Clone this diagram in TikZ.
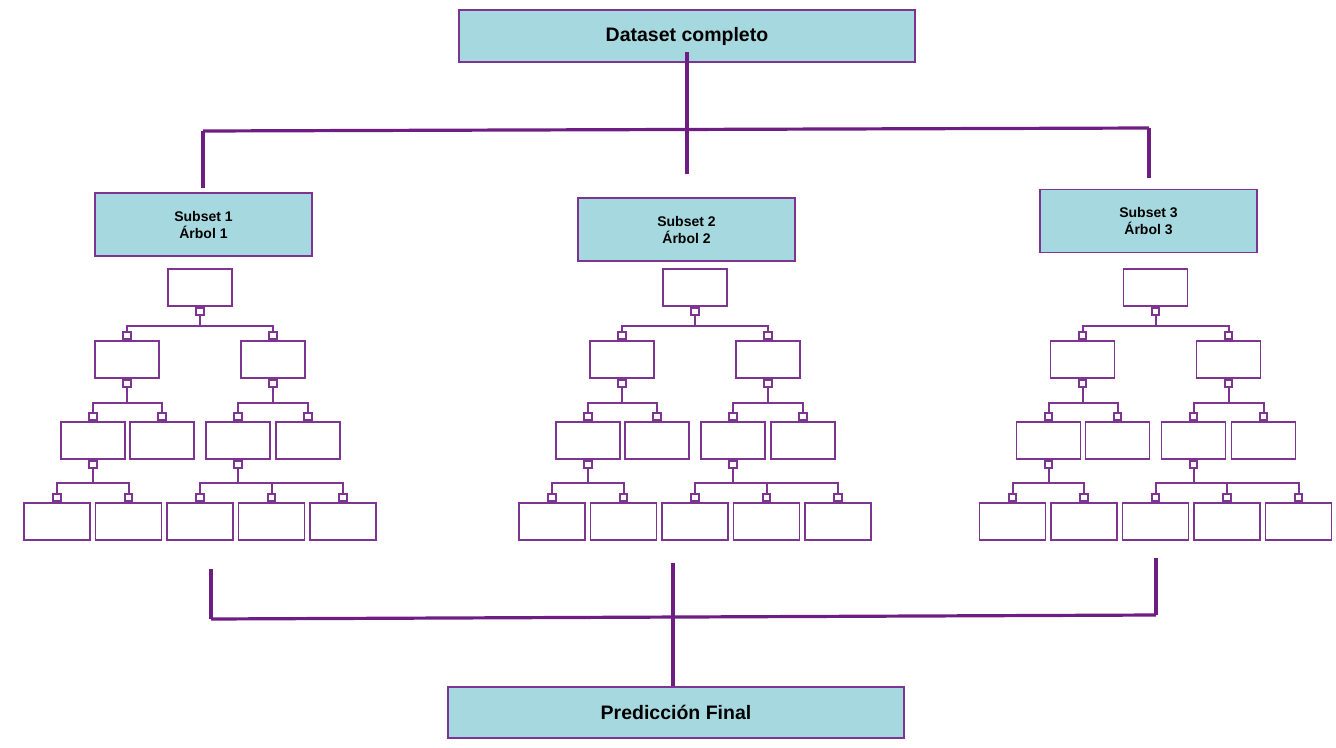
\documentclass[tikz,border=0pt]{standalone}
\usepackage{fontspec}
\setmainfont{Liberation Sans}
\usetikzlibrary{positioning}

\definecolor{morado}{HTML}{6E1E82}
\definecolor{bordemorado}{HTML}{7E3592}
\definecolor{turquesa}{HTML}{A6D9DF}

\tikzset{
    caja/.style={draw=bordemorado, fill=turquesa, line width=1.8pt, inner sep=0pt, align=center,
        font=\bfseries\fontsize{14}{17}\selectfont},
    cajagrande/.style={caja, minimum width=456pt, minimum height=52pt,
        font=\bfseries\fontsize{19.5}{23}\selectfont},
    cajasub/.style={caja, minimum width=217pt, minimum height=63pt},
    hoja/.style={draw=bordemorado, fill=white, line width=1.9pt, minimum width=64pt, minimum height=37pt, inner sep=0pt},
    hojaancha/.style={hoja, minimum width=66pt},
    puerto/.style={draw=bordemorado, fill=white, line width=1.7pt, minimum size=7.5pt, inner sep=0pt},
    rama/.style={draw=bordemorado, line width=2pt},
    llave/.style={draw=morado, line width=3.2pt},
}

\begin{document}
\begin{tikzpicture}[x=1pt, y=-1pt]
    \useasboundingbox (0,0) rectangle (1336,747);

    % Cajas principales
    \node[cajagrande] (total) at (687,36) {Dataset completo};
    \node[cajagrande, minimum height=51pt] (final) at (676,712.5) {Predicción Final};

    \node[cajasub] (sub1) at (203.5,224.5) {Subset 1\\Árbol 1};
    \node[cajasub] (sub2) at (686.5,229.5) {Subset 2\\Árbol 2};
    \node[cajasub] (sub3) at (1148.5,221) {Subset 3\\Árbol 3};

    % Reparto del dataset
    \coordinate (izq) at (203,131);
    \coordinate (der) at (1149,128);
    \draw[llave] ([yshift=11pt]total.south) -- ++(0,122);
    \draw[llave] (izq) -- (der);
    \draw[llave] (izq) -- ++(0,57);
    \draw[llave] (der) -- ++(0,50);

    % Arboles
    \foreach \i/\rx in {1/200, 2/695, 3/1155.5} {
        \begin{scope}[shift={(\rx,0)}]
            \node[hoja] (t\i-r) at (0,287.5) {};
            \node[hoja] (t\i-a) at (-73,359.5) {};
            \node[hoja] (t\i-b) at (73,359.5) {};
            \node[hoja] (t\i-aa) at (-107,440.5) {};
            \node[hoja] (t\i-ab) at (-38,440.5) {};
            \node[hoja] (t\i-ba) at (38,440.5) {};
            \node[hoja] (t\i-bb) at (108,440.5) {};
            \node[hojaancha] (t\i-aaa) at (-143,521.5) {};
            \node[hojaancha] (t\i-aab) at (-71.5,521.5) {};
            \node[hojaancha] (t\i-baa) at (0,521.5) {};
            \node[hojaancha] (t\i-bab) at (71.5,521.5) {};
            \node[hojaancha] (t\i-bac) at (143,521.5) {};

            % Puertos
            \foreach \n in {r,a,b,aa,ba}
                \node[puerto, anchor=north] (t\i-\n-abajo) at (t\i-\n.south) {};
            \foreach \n in {a,b,aa,ab,ba,bb,aaa,aab,baa,bab,bac}
                \node[puerto, anchor=south] (t\i-\n-arriba) at (t\i-\n.north) {};

            % Ramas
            \foreach \p/\c/\d in {r/a/10, r/b/10, a/aa/15, a/ab/15, b/ba/15, b/bb/15,
                aa/aaa/14, aa/aab/14, ba/baa/14, ba/bab/14, ba/bac/14}
                \draw[rama] (t\i-\p-abajo.south) -- ++(0,\d) -| (t\i-\c-arriba.north);
        \end{scope}
    }

    % Union de las predicciones
    \coordinate (bizq) at (211,619);
    \coordinate (bder) at (1156,615);
    \coordinate (bmed) at (673,563);
    \draw[llave] (bizq) -- ++(0,-50);
    \draw[llave] (bizq) -- (bder);
    \draw[llave] (bder) -- ++(0,-57);
    \draw[llave] (bmed) -- (bmed |- final.north);
\end{tikzpicture}
\end{document}
